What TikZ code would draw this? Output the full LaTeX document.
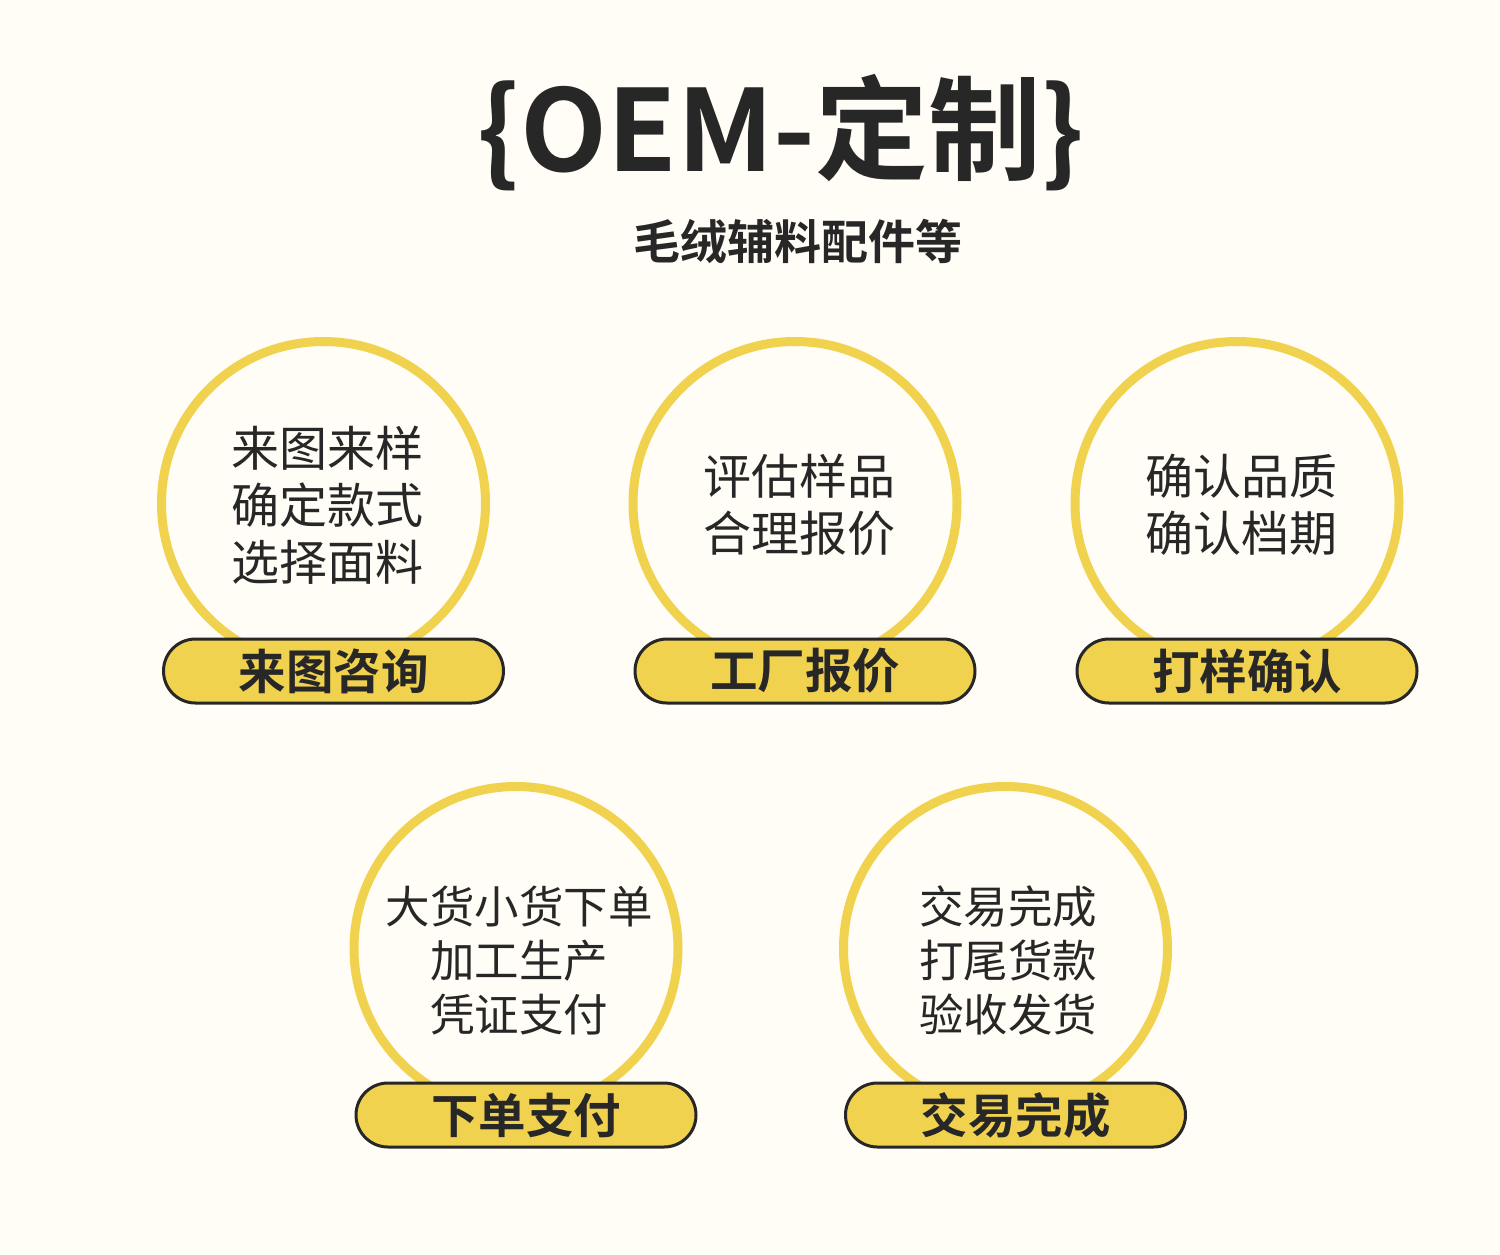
\documentclass[tikz,border=0pt]{standalone}
\usepackage{fontspec}
\setmainfont{Noto Sans CJK SC}[BoldFont={Noto Sans CJK SC Bold}]
\usetikzlibrary{positioning}
\definecolor{bgc}{HTML}{FFFDF5}
\definecolor{ylw}{HTML}{F1D24F}
\definecolor{ink}{HTML}{272727}
\tikzset{
  ring/.style={circle, draw=ylw, line width=9pt, minimum size=324pt, inner sep=0pt},
  pill/.style={draw=ink, fill=ylw, line width=3pt, rounded corners=32pt, minimum width=340pt, minimum height=64pt, inner sep=0pt, text=ink, font=\bfseries\fontsize{47.5}{50}\selectfont},
  bodyA/.style={align=center, text=ink, inner sep=0pt, font=\fontsize{48}{57}\selectfont},
  bodyB/.style={align=center, text=ink, inner sep=0pt, font=\fontsize{44.5}{54}\selectfont},
}
\begin{document}
\begin{tikzpicture}[x=1pt,y=-1pt]
\useasboundingbox (0,0) rectangle (1500,1254);
\fill[bgc] (0,0) rectangle (1500,1254);
% title
\node[text=ink, inner sep=0pt, font=\bfseries\fontsize{113}{120}\selectfont] (title) at (781,133) {\{OEM-定制\}};
\node[text=ink, inner sep=0pt, font=\bfseries\fontsize{47}{50}\selectfont] (sub) at (798,242) {毛绒辅料配件等};
% circles
\node[ring] (c1) at (323.5,503.5) {};
\node[ring] (c2) at (795,503.5) {};
\node[ring] (c3) at (1237,503.5) {};
\node[ring] (c4) at (516,948.5) {};
\node[ring] (c5) at (1005.5,948.5) {};
% circle texts
\node[bodyA] (t1) at (327,505) {来图来样\\确定款式\\选择面料};
\node[bodyA] (t2) at (799,505) {评估样品\\合理报价};
\node[bodyA] (t3) at (1241,505) {确认品质\\确认档期};
\node[bodyB] (t4) at (519,961) {大货小货下单\\加工生产\\凭证支付};
\node[bodyB] (t5) at (1008,960) {交易完成\\打尾货款\\验收发货};
% pills
\node[pill] (p1) at (333.5,671) {来图咨询};
\node[pill] (p2) at (805,671) {工厂报价};
\node[pill] (p3) at (1247,671) {打样确认};
\node[pill] (p4) at (526,1115) {下单支付};
\node[pill] (p5) at (1015.5,1115) {交易完成};
\end{tikzpicture}
\end{document}
